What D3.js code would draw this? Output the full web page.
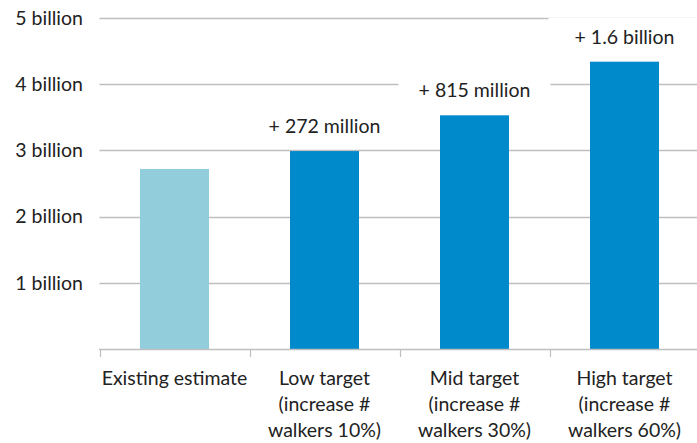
<!DOCTYPE html>
<html><head><meta charset="utf-8">
<script src="https://cdn.jsdelivr.net/npm/d3@7"></script>
<style>body{margin:0;background:#fff}svg{display:block}text{font-family:Lato,"Open Sans",sans-serif;fill:#222}</style>
</head><body>
<script>
const categories = [["Existing estimate"],["Low target","(increase #","walkers 10%)"],["Mid target","(increase #","walkers 30%)"],["High target","(increase #","walkers 60%)"]];
const values = [2.72, 2.99, 3.53, 4.34];
const deltaLabels = [null, "+ 272 million", "+ 815 million", "+ 1.6 billion"];
const yTicks = [1,2,3,4,5];
const yTickLabels = ["1 billion","2 billion","3 billion","4 billion","5 billion"];
const colors = ["#92CDDC", "#0089CB", "#0089CB", "#0089CB"];

const W = 697, H = 443;
const svg = d3.select("body").append("svg").attr("width", W).attr("height", H);
const x = d3.scaleBand().domain(d3.range(categories.length)).range([99.5, 699.5]).paddingInner(0.54).paddingOuter(0.27);
const y = d3.scaleLinear().domain([0,5]).range([349, 18]);
const fs = 19.5;

// gridlines
svg.append("g").selectAll("line").data(yTicks).join("line")
  .attr("x1", 99.5).attr("x2", 697).attr("y1", d=>Math.round(y(d))+0.5).attr("y2", d=>Math.round(y(d))+0.5)
  .attr("stroke", "#bfbfbf").attr("stroke-width", 1.5);
// y labels
svg.append("g").selectAll("text").data(yTicks).join("text")
  .attr("x", 83).attr("y", d=>y(d)).attr("dy","0.35em").attr("text-anchor","end")
  .attr("font-size", fs).text((d,i)=>yTickLabels[i]);

// bars
svg.append("g").selectAll("rect").data(values).join("rect")
  .attr("x", (d,i)=>x(i)).attr("width", x.bandwidth())
  .attr("y", d=>y(d)).attr("height", d=>y(0)-y(d))
  .attr("fill", (d,i)=>colors[i]);

// delta labels with white background
const lg = svg.append("g").selectAll("g").data(values.map((v,i)=>({v,i,l:deltaLabels[i]})).filter(d=>d.l)).join("g");
lg.append("rect")
  .attr("x", d=>x(d.i)+x.bandwidth()/2-76).attr("width", 152)
  .attr("y", d=>y(d.v)-25-19).attr("height", 36).attr("fill","#fff");
lg.append("text")
  .attr("x", d=>x(d.i)+x.bandwidth()/2).attr("y", d=>y(d.v)-25).attr("dy","0.35em")
  .attr("text-anchor","middle").attr("font-size", fs).text(d=>d.l);

// x axis
const xa = svg.append("g");
xa.append("line").attr("x1",99).attr("x2",697).attr("y1",349.5).attr("y2",349.5).attr("stroke","#bfbfbf").attr("stroke-width",1.5);
xa.selectAll("line.t").data(d3.range(categories.length)).join("line").attr("class","t")
  .attr("x1", i=>Math.round(x(i)-x.step()*0.27)+0.5).attr("x2", i=>Math.round(x(i)-x.step()*0.27)+0.5)
  .attr("y1",349).attr("y2",357).attr("stroke","#bfbfbf").attr("stroke-width",1.2);
xa.selectAll("text").data(categories).join("text")
  .attr("text-anchor","middle").attr("font-size", fs)
  .attr("x", (d,i)=>x(i)+x.bandwidth()/2)
  .each(function(lines){
    d3.select(this).selectAll("tspan").data(lines).join("tspan")
      .attr("x", d3.select(this).attr("x")).attr("y",(l,j)=>378+j*26).attr("dy","0.35em").text(l=>l);
  });
</script>
</body></html>
